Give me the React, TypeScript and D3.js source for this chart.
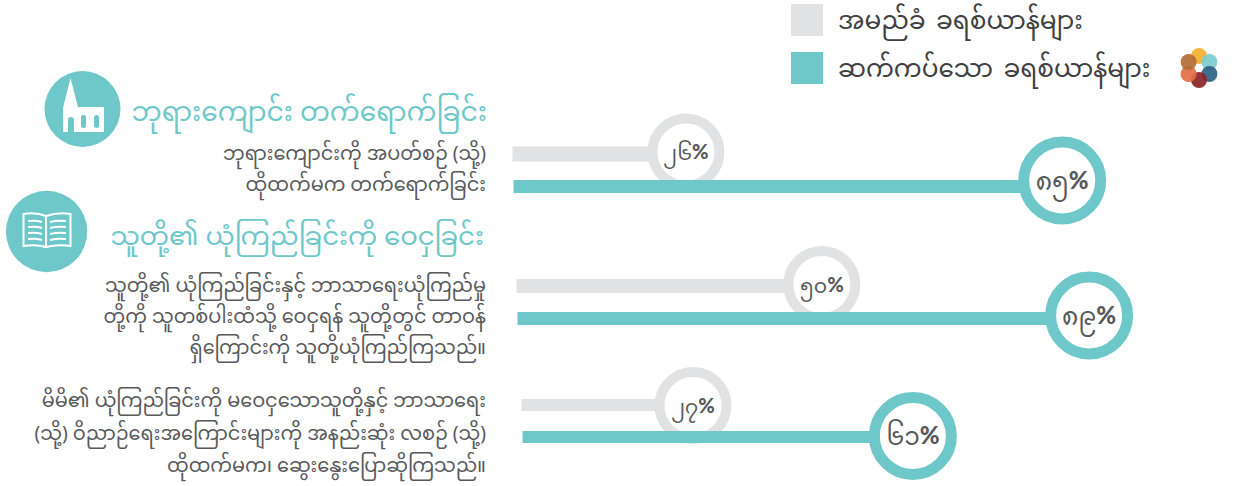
import React from "react";
import * as d3 from "d3";

const TEAL = "#6EC8CA";
const GRAY = "#E1E2E4";
const INK = "#58595B";

const legendLabels = ["အမည်ခံ ခရစ်ယာန်များ", "ဆက်ကပ်သော ခရစ်ယာန်များ"];
const nominalLabels = ["၂၆", "၅၀", "၂၇"];
const committedLabels = ["၈၅", "၈၉", "၆၁"];
// positions along the axis
const nominalValues = [26.2, 47.4, 27.3];
const committedValues = [84.9, 89.1, 61.6];
const rowStart = [512.5, 516.5, 521.5];
const nominalY = [154, 286, 405];
const nominalH = [15, 14, 12];
const committedY = [186.5, 318.5, 437];
const committedH = [13, 13, 12];
const nominalCy = [152, 284.5, 405.5];
const committedCy = [180.5, 315.5, 436];
const heading1 = "ဘုရားကျောင်း တက်ရောက်ခြင်း";
const heading2 = "သူတို့၏ ယုံကြည်ခြင်းကို ဝေငှခြင်း";
const desc1 = ["ဘုရားကျောင်းကို အပတ်စဉ် (သို့)", "ထိုထက်မက တက်ရောက်ခြင်း"];
const desc2 = [
  "သူတို့၏ ယုံကြည်ခြင်းနှင့် ဘာသာရေးယုံကြည်မှု",
  "တို့ကို သူတစ်ပါးထံသို့ ဝေငှရန် သူတို့တွင် တာဝန်",
  "ရှိကြောင်းကို သူတို့ယုံကြည်ကြသည်။",
];
const desc3 = [
  "မိမိ၏ ယုံကြည်ခြင်းကို မဝေငှသောသူတို့နှင့် ဘာသာရေး",
  "(သို့) ဝိညာဉ်ရေးအကြောင်းများကို အနည်းဆုံး လစဉ် (သို့)",
  "ထိုထက်မက၊ ဆွေးနွေးပြောဆိုကြသည်။",
];
const logoColors = ["#F4B02F", "#7CCBCF", "#2C6186", "#8A2427", "#E36C46", "#B56B34"];

const FONT = "'Noto Sans Myanmar','Padauk','Myanmar Text','Noto Sans','DejaVu Sans',sans-serif";
const PCT = "Lato,'Noto Sans',sans-serif";

const x = d3.scaleLinear().domain([0, 100]).range([518, 1159]);

export default function App() {
  const logoAngle = d3.scaleLinear().domain([0, 6]).range([-Math.PI / 2, (3 * Math.PI) / 2]);
  return (
    <svg
      width={1233}
      height={486}
      style={{ position: "absolute", left: 0, top: 0, background: "#fff" }}
      fontFamily={FONT}
    >
      {legendLabels.map((t, i) => (
        <g key={t}>
          <rect x={791} y={4 + i * 48} width={32} height={32} fill={i ? TEAL : GRAY} />
          <text x={838} y={29 + i * 48} fontSize={24.8} wordSpacing={4} fill="#3f4042">{t}</text>
        </g>
      ))}
      {logoColors.map((c, i) => (
        <circle
          key={c}
          cx={1199 + 12 * Math.cos(logoAngle(i))}
          cy={68 + 12 * Math.sin(logoAngle(i))}
          r={8}
          fill={c}
          opacity={0.92}
        />
      ))}

      {nominalValues.map((v, i) => (
        <g key={i}>
          <rect x={rowStart[i]} y={nominalY[i] - nominalH[i] / 2} width={x(v) - rowStart[i]} height={nominalH[i]} fill={GRAY} />
          <circle cx={x(v)} cy={nominalCy[i]} r={33.5} fill="#fff" stroke={GRAY} strokeWidth={10} />
          <text x={x(v)} y={nominalCy[i] + 8} textAnchor="middle" fontSize={20.5} fill={INK}>
            {nominalLabels[i]}
            <tspan fontFamily={PCT} fontWeight={900} fontSize={20} dy={-1}>%</tspan>
          </text>
        </g>
      ))}
      {committedValues.map((v, i) => (
        <g key={i}>
          <rect x={rowStart[i] + 1} y={committedY[i] - committedH[i] / 2} width={x(v) - rowStart[i]} height={committedH[i]} fill={TEAL} />
          <circle cx={x(v)} cy={committedCy[i]} r={38.5} fill="#fff" stroke={TEAL} strokeWidth={11} />
          <text x={x(v)} y={committedCy[i] + 9} textAnchor="middle" fontSize={25} fill={INK}>
            {committedLabels[i]}
            <tspan fontFamily={PCT} fontWeight={900} fontSize={24} dy={-1}>%</tspan>
          </text>
        </g>
      ))}

      <circle cx={82.5} cy={109} r={38} fill={TEAL} />
      <path fill="#fff" d="M63 132V108L70.5 78L78 107H104V132H74V120Q74 117 70.5 117Q68 117 68 120V132Z" />
      <g fill={TEAL}>
        <rect x={81} y={115} width={5} height={13} rx={2.5} />
        <rect x={94} y={115} width={5} height={13} rx={2.5} />
      </g>

      <circle cx={46.6} cy={231.5} r={40.7} fill={TEAL} />
      <g fill="none" stroke="#fff" strokeWidth={2}>
        <path d="M23.5 214Q36 212 46 216Q58 212 70.5 214V246Q58 244 46 247Q36 244 23.5 246Z" />
        <path d="M46 216V247" />
        {[221, 227, 233, 239].map((y) => (
          <g key={y}>
            <path d={`M28 ${y}Q36 ${y - 1} 42 ${y + 1}`} />
            <path d={`M50 ${y + 1}Q58 ${y - 1} 66 ${y}`} />
          </g>
        ))}
      </g>

      <text x={487} y={120.5} textAnchor="end" fontSize={26.6} fill={TEAL}>{heading1}</text>
      <text x={484} y={245} textAnchor="end" fontSize={26} fill={TEAL}>{heading2}</text>
      {desc1.map((t, i) => (
        <text key={t} x={486} y={159.5 + i * 31} textAnchor="end" fontSize={19.3} fill={INK}>{t}</text>
      ))}
      {desc2.map((t, i) => (
        <text key={t} x={486} y={292 + i * 31} textAnchor="end" fontSize={19.3} fill={INK}>{t}</text>
      ))}
      {desc3.map((t, i) => (
        <text key={t} x={486} y={407 + i * 32.5} textAnchor="end" fontSize={19.3} fill={INK}>{t}</text>
      ))}
    </svg>
  );
}
